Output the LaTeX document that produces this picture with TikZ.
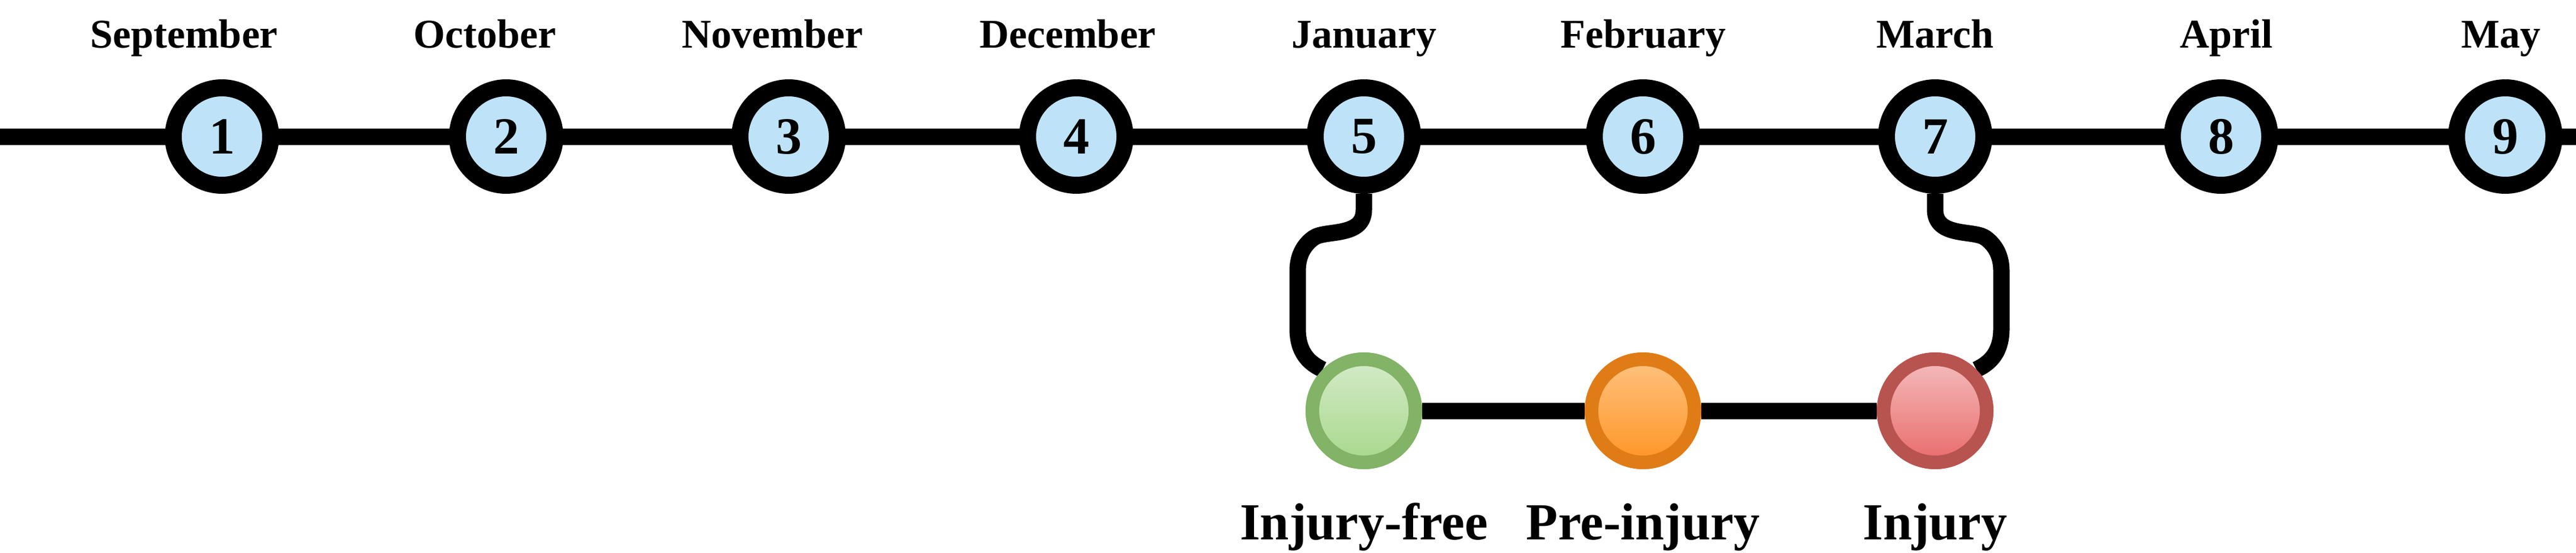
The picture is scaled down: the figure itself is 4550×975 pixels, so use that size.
\documentclass[tikz,border=0pt]{standalone}
\usepackage{fontspec}
\setmainfont{Liberation Serif}
\begin{document}
\begin{tikzpicture}[x=1pt,y=-1pt,
  month/.style={circle,draw=black,line width=30pt,fill=blueF,minimum size=172pt,inner sep=0pt,font=\fontsize{92}{92}\selectfont\bfseries},
  lab/.style={font=\fontsize{72}{72}\selectfont\bfseries,anchor=base},
  blab/.style={font=\fontsize{92}{92}\selectfont\bfseries,anchor=base},
  state/.style={circle,line width=24pt,minimum size=182pt,inner sep=0pt},
  conn/.style={line width=29pt,line join=round}]
\definecolor{blueF}{HTML}{BEE3F8}
\definecolor{gD}{HTML}{82B366}\definecolor{gT}{HTML}{D3EBC8}\definecolor{gB}{HTML}{A8D88C}
\definecolor{oD}{HTML}{E07C16}\definecolor{oT}{HTML}{FFC27F}\definecolor{oB}{HTML}{FF9526}
\definecolor{rD}{HTML}{B85450}\definecolor{rT}{HTML}{F4BCBC}\definecolor{rB}{HTML}{EA6B6B}
\useasboundingbox (0,0) rectangle (4550,975);
\coordinate (L) at (0,241); \coordinate (R) at (4550,241);
\draw[conn] (L) -- (R);
\foreach \i/\x/\lx/\m in {1/392/325/September,2/894/856/October,3/1393/1364/November,4/1901/1886/December,5/2409/2409/January,6/2902/2902/February,7/3418/3418/March,8/3923/3932/April,9/4425/4417/May}{
  \node[month] (n\i) at (\x,241) {\i};
  \node[lab] (m\i) at (\lx,84) {\m};
}
\node[state,draw=gD,top color=gT,bottom color=gB] (free) at (2409,725) {};
\node[state,draw=oD,top color=oT,bottom color=oB] (pre) at (2902,725) {};
\node[state,draw=rD,top color=rT,bottom color=rB] (inj) at (3418,725) {};
\node[blab] (lf) at (2409,952) {Injury-free};
\node[blab] (lp) at (2902,952) {Pre-injury};
\node[blab] (li) at (3418,952) {Injury};
\draw[conn] (free) -- (pre) -- (inj);
\draw[conn] (n5.south) -- (2409,370) .. controls (2409,420) and (2340,405) .. (2320,420)
  .. controls (2292,440) and (2292,470) .. (2292,480) -- (2292,580)
  .. controls (2292,620) and (2310,640) .. (free.north west);
\draw[conn] (n7.south) -- (3418,370) .. controls (3418,420) and (3487,405) .. (3507,420)
  .. controls (3535,440) and (3535,470) .. (3535,480) -- (3535,580)
  .. controls (3535,620) and (3517,640) .. (inj.north east);
\node[state,draw=gD,top color=gT,bottom color=gB] at (free) {};
\node[state,draw=oD,top color=oT,bottom color=oB] at (pre) {};
\node[state,draw=rD,top color=rT,bottom color=rB] at (inj) {};
\end{tikzpicture}
\end{document}
